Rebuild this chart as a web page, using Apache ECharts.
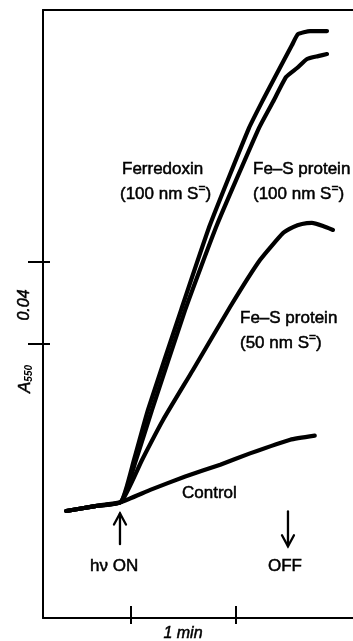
<!DOCTYPE html>
<html><head><meta charset="utf-8">
<script src="https://cdn.jsdelivr.net/npm/echarts@6/dist/echarts.min.js"></script>
<style>html,body{margin:0;padding:0;background:#fff}#c{width:353px;height:641px}</style>
</head><body><div id="c"></div>
<script>
// time in seconds, absorbance change at 550 nm in units of 0.001
const darkTime = [23, 39.5, 54.3];
const darkA = [38.2, 40.6, 42.6];
const controlTime = [71, 91, 111, 128, 151, 165];
const controlA = [48.5, 55, 60.8, 66.3, 73, 75];
const ferredoxinTime = [61.7, 69.7, 88.6, 105.1, 127.4, 135.4, 142.3, 152, 155.4, 162.3, 172];
const ferredoxinA = [63.1, 87.5, 136.2, 177.7, 225, 238.7, 249.9, 265.5, 270.8, 272.3, 272.3];
const feS100Time = [62.9, 72, 90.9, 109.1, 133.1, 141.7, 148.6, 154.9, 160.6, 166.9, 172];
const feS100A = [63.1, 87.5, 136.2, 177.7, 225, 238.7, 249.9, 254.3, 258.7, 260.1, 261.1];
const feS50Time = [66.3, 78.3, 95.4, 116.6, 133.7, 146.9, 152.6, 157.7, 163.4, 169.7, 175.4];
const feS50A = [63.1, 82.6, 107, 137.7, 160.6, 173.8, 176.7, 178.2, 178.7, 177.2, 175.3];
const xTicks = [60, 120];
const yTicks = [120, 160];
const lightOnTime = 53.7, lightOffTime = 149.7;
const arrowTopA = 37, arrowBottomA = 22;

const X_MIN = 9.714, X_MAX = 186.857, Y_MIN = -14, Y_MAX = 282.59;
const INK = '#000';
const FONT = '"Liberation Sans", Arial, Helvetica, sans-serif';

function pairs(ts, as) { return ts.map((t, i) => [t, as[i]]); }
function trace(ts, as) { return pairs(darkTime, darkA).concat(pairs(ts, as)); }

const chart = echarts.init(document.getElementById('c'), null, {renderer: 'canvas'});
const baseX = {type: 'value', min: X_MIN, max: X_MAX, splitLine: {show: false}, axisLabel: {show: false}};
const baseY = {type: 'value', min: Y_MIN, max: Y_MAX, splitLine: {show: false}, axisLabel: {show: false}};
const lineSt = {color: INK, width: 2};

function lineSeries(name, data) {
  return {name, type: 'line', data, showSymbol: false, symbol: 'none', smooth: 0.15,
    lineStyle: {color: INK, width: 4.2, cap: 'round', join: 'round'}, silent: true};
}

chart.setOption({
  animation: false,
  backgroundColor: '#fff',
  grid: {left: 43, top: 10, right: 0, bottom: 23, containLabel: false},
  xAxis: [
    Object.assign({}, baseX, {position: 'bottom', axisLine: {show: true, onZero: false, lineStyle: lineSt},
      axisTick: {show: true, inside: false, length: 6, customValues: xTicks, lineStyle: lineSt}}),
    Object.assign({}, baseX, {position: 'bottom', axisLine: {show: false, onZero: false},
      axisTick: {show: true, inside: true, length: 12, customValues: xTicks, lineStyle: lineSt}}),
    Object.assign({}, baseX, {position: 'top', axisLine: {show: true, onZero: false, lineStyle: lineSt},
      axisTick: {show: false}})
  ],
  yAxis: [
    Object.assign({}, baseY, {position: 'left', axisLine: {show: true, onZero: false, lineStyle: lineSt},
      axisTick: {show: true, inside: false, length: 15, customValues: yTicks, lineStyle: lineSt}}),
    Object.assign({}, baseY, {position: 'left', axisLine: {show: false, onZero: false},
      axisTick: {show: true, inside: true, length: 7, customValues: yTicks, lineStyle: lineSt}})
  ],
  series: [
    lineSeries('Control', trace(controlTime, controlA)),
    lineSeries('Fe-S protein (50 nm)', trace(feS50Time, feS50A)),
    lineSeries('Fe-S protein (100 nm)', trace(feS100Time, feS100A)),
    lineSeries('Ferredoxin (100 nm)', trace(ferredoxinTime, ferredoxinA))
  ]
});

const EMB = {stroke: INK, lineWidth: 0.5};
function txt(x, y, text, extra) {
  return {type: 'text', x, y, silent: true, z: 10,
    style: Object.assign({text, fill: INK, font: '17px ' + FONT, align: 'left', verticalAlign: 'middle', stroke: INK, lineWidth: 0.5}, extra || {})};
}
function richLabel(x, y, main) {
  return {type: 'text', x, y, silent: true, z: 10,
    style: {text: '{t|' + main + '}{s|=}{t|)}', align: 'left', verticalAlign: 'middle',
      rich: {t: Object.assign({fontSize: 17, fontFamily: FONT, fill: INK, lineHeight: 20, verticalAlign: 'bottom'}, EMB),
             s: Object.assign({fontSize: 12, fontFamily: FONT, fill: INK, lineHeight: 20, verticalAlign: 'top'}, EMB)}}};
}
function arrow(t, a1, a2, headAtTop) {
  const p1 = chart.convertToPixel({xAxisIndex: 0, yAxisIndex: 0}, [t, a1]);
  const p2 = chart.convertToPixel({xAxisIndex: 0, yAxisIndex: 0}, [t, a2]);
  const x = p1[0], yTop = p1[1], yBot = p2[1];
  const st = {stroke: INK, lineWidth: 2.3, fill: null, lineCap: 'round', lineJoin: 'miter'};
  const head = headAtTop
    ? [[x - 6, yTop + 11], [x, yTop], [x + 6, yTop + 11]]
    : [[x - 6, yBot - 11], [x, yBot], [x + 6, yBot - 11]];
  return [
    {type: 'line', silent: true, shape: {x1: x, y1: yTop, x2: x, y2: yBot}, style: st},
    {type: 'polyline', silent: true, shape: {points: head}, style: st}
  ];
}

const graphics = [
  txt(122, 169, 'Ferredoxin'),
  richLabel(120, 193, '(100 nm S'),
  txt(253, 169, 'Fe\u2013S protein'),
  richLabel(253, 193, '(100 nm S'),
  txt(240, 318, 'Fe\u2013S protein'),
  richLabel(240, 342, '(50 nm S'),
  txt(182, 493, 'Control'),
  txt(90, 566, 'h\u03bd ON'),
  txt(268, 566, 'OFF'),
  txt(183, 634, '1 min', {font: 'italic 16px ' + FONT, align: 'center'}),
  {type: 'text', x: 25, y: 305, rotation: Math.PI / 2, silent: true,
    style: {text: '0.04', font: 'italic 16px ' + FONT, fill: INK, stroke: INK, lineWidth: 0.5, align: 'center', verticalAlign: 'middle'}},
  {type: 'text', x: 25, y: 379, rotation: Math.PI / 2, silent: true,
    style: {text: '{a|A}{b|550}', align: 'center', verticalAlign: 'middle',
      rich: {a: Object.assign({fontSize: 17, fontStyle: 'italic', fontFamily: FONT, fill: INK, lineHeight: 18, verticalAlign: 'bottom'}, EMB),
             b: {fontSize: 10, fontStyle: 'italic', fontWeight: 'bold', fontFamily: FONT, fill: INK, lineHeight: 18, verticalAlign: 'bottom'}}}}
].concat(arrow(lightOnTime, arrowTopA, arrowBottomA, true), arrow(lightOffTime, arrowTopA + 1, arrowBottomA - 1, false));

chart.setOption({graphic: graphics});
</script></body></html>
